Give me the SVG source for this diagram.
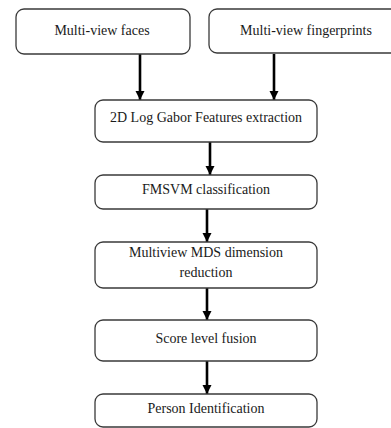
<svg xmlns="http://www.w3.org/2000/svg" width="391" height="428" viewBox="0 0 391 428">
  <style>
    .box { fill: #ffffff; stroke: #3a3a3a; stroke-width: 1.3; }
    .lbl { font-family: "Liberation Serif", "Times New Roman", serif; font-size: 14px; fill: #1a1a1a; text-anchor: middle; }
    .edge { stroke: #000000; stroke-width: 2.6; fill: none; marker-end: url(#head); }
  </style>
  <defs>
    <marker id="head" viewBox="0 0 10 10" refX="10" refY="5" markerUnits="userSpaceOnUse" markerWidth="9" markerHeight="11" orient="auto">
      <path d="M0,0 L10,5 L0,10 Z" fill="#000000"/>
    </marker>
  </defs>
  <rect width="391" height="428" fill="#ffffff"/>

  <g id="connectors">
    <line class="edge" x1="140" y1="54" x2="140" y2="100"/>
    <line class="edge" x1="274" y1="54" x2="274" y2="100"/>
    <line class="edge" x1="210" y1="142" x2="210" y2="175"/>
    <line class="edge" x1="207" y1="209" x2="207" y2="242"/>
    <line class="edge" x1="207" y1="288" x2="207" y2="320"/>
    <line class="edge" x1="207" y1="361" x2="207" y2="394"/>
  </g>

  <g id="faces">
    <rect class="box" x="16" y="9" width="174" height="45" rx="8"/>
    <text class="lbl" x="102" y="35">Multi-view faces</text>
  </g>
  <g id="fingerprints">
    <rect class="box" x="209" y="9" width="190" height="44" rx="8"/>
    <text class="lbl" x="306" y="35">Multi-view fingerprints</text>
  </g>
  <g id="gabor">
    <rect class="box" x="95" y="100" width="222" height="42" rx="8"/>
    <text class="lbl" x="206" y="122">2D Log Gabor Features extraction</text>
  </g>
  <g id="fmsvm">
    <rect class="box" x="95" y="175" width="222" height="34" rx="8"/>
    <text class="lbl" x="206" y="194">FMSVM classification</text>
  </g>
  <g id="mds">
    <rect class="box" x="95" y="242" width="222" height="46" rx="8"/>
    <text class="lbl" x="206" y="257">Multiview MDS dimension</text>
    <text class="lbl" x="206" y="277">reduction</text>
  </g>
  <g id="fusion">
    <rect class="box" x="95" y="320" width="222" height="41" rx="8"/>
    <text class="lbl" x="206" y="343">Score level fusion</text>
  </g>
  <g id="identification">
    <rect class="box" x="95" y="394" width="222" height="33" rx="8"/>
    <text class="lbl" x="206" y="413">Person Identification</text>
  </g>
</svg>
